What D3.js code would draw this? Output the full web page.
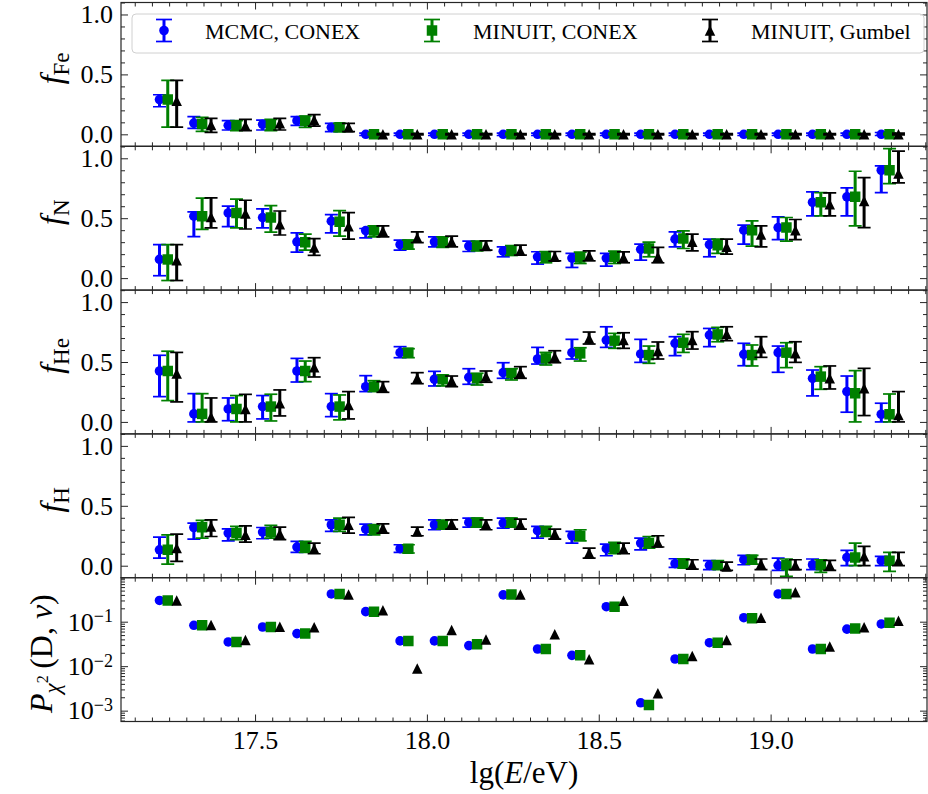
<!DOCTYPE html>
<html>
<head>
<meta charset="utf-8">
<script src="https://cdn.jsdelivr.net/npm/d3@7"></script>
<style>
  body { margin: 0; background: #fff; }
  svg text { font-family: "Liberation Serif", "Times New Roman", serif; fill: #000; }
</style>
</head>
<body>
<svg id="chart" width="928" height="794"></svg>
<script>
// bin centres in lg(E/eV)
const lgE = [17.25, 17.35, 17.45, 17.55, 17.65, 17.75, 17.85, 17.95, 18.05, 18.15, 18.25,
             18.35, 18.45, 18.55, 18.65, 18.75, 18.85, 18.95, 19.05, 19.15, 19.25, 19.35];

const methodNames = ['MCMC, CONEX', 'MINUIT, CONEX', 'MINUIT, Gumbel'];

// [value, low, high] for each bin
const feMcmc = [[0.29,0.23,0.33],[0.094,0.05,0.147],[0.075,0.036,0.114],[0.083,0.036,0.119],[0.114,0.075,0.147],[0.058,0.022,0.092],
  [0,-0.01,0.01],[0,-0.01,0.01],[0,-0.01,0.01],[0,-0.01,0.01],[0,-0.01,0.01],[0,-0.01,0.01],[0,-0.01,0.01],[0,-0.01,0.01],
  [0,-0.01,0.01],[0,-0.01,0.01],[0,-0.01,0.01],[0,-0.01,0.01],[0,-0.01,0.01],[0,-0.01,0.01],[0,-0.01,0.01],[0,-0.01,0.015]];
const feMinuit = [[0.29,0.06,0.45],[0.086,0.025,0.142],[0.075,0.03,0.114],[0.08,0.03,0.125],[0.114,0.058,0.153],[0.058,0.022,0.092],
  [0,-0.005,0.01],[0,-0.005,0.01],[0,-0.005,0.01],[0,-0.005,0.01],[0,-0.005,0.01],[0,-0.005,0.01],[0,-0.005,0.01],[0,-0.005,0.01],
  [0,-0.005,0.01],[0,-0.005,0.01],[0,-0.005,0.01],[0,-0.005,0.01],[0,-0.005,0.01],[0,-0.005,0.01],[0,-0.005,0.01],[0,-0.005,0.01]];
const feGumbel = [[0.28,0.06,0.45],[0.078,0.017,0.133],[0.072,0.03,0.125],[0.092,0.036,0.133],[0.119,0.069,0.164],[0.058,0.022,0.092],
  [0,-0.005,0.005],[0,-0.005,0.005],[0,-0.005,0.005],[0,-0.005,0.005],[0,-0.005,0.005],[0,-0.005,0.005],[0,-0.005,0.005],[0,-0.005,0.005],
  [0,-0.005,0.005],[0,-0.005,0.005],[0,-0.005,0.005],[0,-0.005,0.005],[0,-0.005,0.005],[0,-0.005,0.005],[0,-0.005,0.005],[0,-0.005,0.01]];

const nMcmc = [[0.156,0.02,0.28],[0.517,0.347,0.553],[0.544,0.43,0.60],[0.505,0.42,0.578],[0.303,0.217,0.378],[0.475,0.378,0.53],
  [0.397,0.336,0.414],[0.28,0.233,0.317],[0.303,0.261,0.344],[0.267,0.222,0.308],[0.225,0.178,0.26],[0.178,0.117,0.22],
  [0.167,0.089,0.206],[0.167,0.1,0.206],[0.24,0.15,0.283],[0.325,0.261,0.386],[0.28,0.178,0.325],[0.40,0.283,0.442],
  [0.422,0.322,0.511],[0.633,0.52,0.72],[0.678,0.52,0.753],[0.9,0.714,0.936]];
const nMinuit = [[0.156,-0.02,0.28],[0.517,0.406,0.667],[0.544,0.42,0.66],[0.505,0.383,0.605],[0.30,0.233,0.367],[0.47,0.35,0.564],
  [0.397,0.344,0.436],[0.28,0.242,0.317],[0.303,0.256,0.344],[0.267,0.228,0.308],[0.228,0.189,0.272],[0.178,0.128,0.222],
  [0.172,0.122,0.217],[0.178,0.122,0.225],[0.247,0.178,0.30],[0.33,0.247,0.394],[0.275,0.206,0.325],[0.40,0.267,0.478],
  [0.422,0.308,0.506],[0.633,0.519,0.714],[0.678,0.436,0.892],[0.9,0.789,1.08]];
const nGumbel = [[0.15,-0.02,0.28],[0.51,0.42,0.67],[0.54,0.41,0.65],[0.45,0.36,0.56],[0.256,0.19,0.33],[0.433,0.325,0.547],
  [0.394,0.344,0.436],[0.336,0.297,0.386],[0.303,0.261,0.35],[0.267,0.233,0.311],[0.228,0.192,0.275],[0.178,0.144,0.222],
  [0.186,0.144,0.228],[0.172,0.128,0.219],[0.178,0.128,0.256],[0.303,0.228,0.367],[0.261,0.2,0.325],[0.364,0.261,0.436],
  [0.40,0.322,0.489],[0.617,0.52,0.711],[0.644,0.422,0.839],[0.872,0.794,1.06]];

const heMcmc = [[0.425,0.211,0.556],[0.067,0.0,0.236],[0.108,0.01,0.2],[0.128,0.025,0.22],[0.425,0.333,0.53],[0.128,0.044,0.236],
  [0.294,0.253,0.386],[0.578,0.536,0.628],[0.356,0.30,0.422],[0.372,0.314,0.444],[0.411,0.364,0.494],[0.525,0.483,0.622],
  [0.578,0.525,0.689],[0.683,0.622,0.794],[0.567,0.497,0.689],[0.656,0.553,0.711],[0.725,0.628,0.78],[0.564,0.469,0.656],
  [0.578,0.414,0.633],[0.364,0.217,0.433],[0.253,0.081,0.383],[0.064,0.0,0.156]];
const heMinuit = [[0.425,0.178,0.59],[0.067,0.0,0.236],[0.108,0.0,0.22],[0.128,0.008,0.231],[0.425,0.336,0.508],[0.128,0.017,0.225],
  [0.294,0.253,0.344],[0.578,0.536,0.611],[0.356,0.30,0.392],[0.364,0.308,0.406],[0.406,0.35,0.444],[0.53,0.475,0.58],
  [0.572,0.508,0.619],[0.678,0.614,0.739],[0.558,0.489,0.633],[0.661,0.58,0.731],[0.73,0.669,0.789],[0.558,0.467,0.642],
  [0.578,0.453,0.661],[0.378,0.272,0.461],[0.239,0.0,0.428],[0.064,0.0,0.233]];
const heGumbel = [[0.405,0.167,0.58],[0.04,0.0,0.2],[0.108,0.0,0.23],[0.156,0.05,0.267],[0.456,0.375,0.536],[0.142,0.025,0.253],
  [0.289,0.247,0.336],[0.364,0.319,0.411],[0.344,0.294,0.383],[0.378,0.331,0.425],[0.411,0.364,0.461],[0.544,0.494,0.594],
  [0.697,0.65,0.75],[0.683,0.614,0.744],[0.592,0.525,0.667],[0.683,0.608,0.753],[0.733,0.678,0.794],[0.614,0.539,0.711],
  [0.572,0.497,0.669],[0.364,0.275,0.467],[0.281,0.053,0.447],[0.058,0.0,0.253]];

const hMcmc = [[0.133,0.064,0.239],[0.319,0.222,0.356],[0.272,0.208,0.308],[0.281,0.225,0.319],[0.156,0.111,0.203],[0.342,0.286,0.383],
  [0.306,0.258,0.347],[0.142,0.111,0.175],[0.342,0.30,0.383],[0.361,0.322,0.397],[0.356,0.314,0.397],[0.292,0.231,0.328],
  [0.25,0.189,0.286],[0.142,0.083,0.181],[0.189,0.133,0.231],[0.017,-0.014,0.058],[0.003,-0.033,0.042],[0.05,0.008,0.086],
  [0.003,-0.039,0.064],[0.008,-0.033,0.056],[0.069,0.0,0.128],[0.042,0.0,0.078]];
const hMinuit = [[0.133,0.014,0.258],[0.322,0.23,0.378],[0.272,0.217,0.328],[0.281,0.231,0.336],[0.156,0.111,0.203],[0.342,0.286,0.397],
  [0.306,0.258,0.336],[0.142,0.106,0.175],[0.342,0.306,0.378],[0.361,0.322,0.397],[0.361,0.322,0.397],[0.286,0.244,0.328],
  [0.25,0.208,0.3],[0.147,0.1,0.194],[0.189,0.147,0.244],[0.017,-0.019,0.058],[0.003,-0.028,0.042],[0.05,0.014,0.086],
  [0.003,-0.089,0.056],[0.003,-0.056,0.05],[0.069,0.0,0.189],[0.042,-0.047,0.111]];
const hGumbel = [[0.147,0.036,0.264],[0.328,0.244,0.383],[0.258,0.197,0.333],[0.267,0.217,0.322],[0.142,0.10,0.189],[0.342,0.272,0.403],
  [0.314,0.272,0.35],[0.286,0.25,0.322],[0.35,0.306,0.383],[0.347,0.3,0.383],[0.347,0.306,0.389],[0.267,0.222,0.306],
  [0.106,0.064,0.147],[0.142,0.1,0.189],[0.194,0.156,0.25],[0.008,-0.028,0.05],[-0.006,-0.039,0.03],[0.014,-0.033,0.056],
  [0.003,-0.033,0.05],[0.003,-0.039,0.044],[0.078,0.0,0.161],[0.042,0.0,0.111]];

// goodness of fit probabilities
const chiMcmc = [0.30,0.083,0.035,0.076,0.054,0.42,0.168,0.037,0.037,0.029,0.40,0.0243,0.0175,0.217,0.0015,0.0145,0.0337,0.123,0.42,0.0243,0.068,0.089];
const chiMinuit = [0.30,0.083,0.035,0.076,0.054,0.42,0.168,0.037,0.037,0.031,0.41,0.0243,0.0175,0.217,0.00134,0.0145,0.0337,0.12,0.42,0.0243,0.07,0.095];
const chiGumbel = [0.30,0.084,0.039,0.077,0.075,0.41,0.18,0.0089,0.065,0.040,0.41,0.052,0.0143,0.296,0.00245,0.017,0.039,0.123,0.46,0.0275,0.075,0.105];

const xMajor = [17.5, 18.0, 18.5, 19.0];
const yMajor = [0, 0.5, 1.0];
const logMajor = [1e-3, 1e-2, 1e-1];
const logExp = {0.001: '−3', 0.01: '−2', 0.1: '−1'};

// ---------------------------------------------------------------
const svg = d3.select('#chart');
const mLeft = 121, mRight = 927, mTop = 2.5, panelH = 143.8;
const serif = '"Liberation Serif", "Times New Roman", serif';
const colors = ['#0000ff', '#008000', '#000000'];
const dxs = [-0.028, -0.004, 0.022];

const xScale = d3.scaleLinear().domain([17.11, 19.455]).range([mLeft, mRight]);
const xMinor = d3.range(343, 390).map(d => d / 20).filter(d => !xMajor.includes(d));

const panels = [
  {label: 'Fe', series: [feMcmc, feMinuit, feGumbel]},
  {label: 'N', series: [nMcmc, nMinuit, nGumbel]},
  {label: 'He', series: [heMcmc, heMinuit, heGumbel]},
  {label: 'H', series: [hMcmc, hMinuit, hGumbel]},
  {label: 'chi', series: [chiMcmc, chiMinuit, chiGumbel], log: true}
];

const markerPath = (k, s) => {
  if (k === 0) return d3.symbol(d3.symbolCircle, Math.PI * 4.8 * 4.8)();
  if (k === 1) return `M${-s/2},${-s/2}H${s/2}V${s/2}H${-s/2}Z`;
  return `M0,${-s/2}L${s/2},${s/2}H${-s/2}Z`;
};

const styleAxis = (g, fs) => {
  g.select('.domain').remove();
  g.selectAll('line').attr('stroke', '#262626').attr('stroke-width', 1);
  g.attr('font-family', serif).attr('font-size', fs);
  g.selectAll('text').style('font-family', serif).attr('fill', '#000');
};

panels.forEach((p, i) => {
  const y0 = mTop + i * panelH, y1 = y0 + panelH;
  const yScale = p.log
    ? d3.scaleLog().domain([5.7e-4, 0.975]).range([y1, y0])
    : d3.scaleLinear().domain([-0.1, 1.1]).range([y1, y0]);

  const g = svg.append('g').attr('class', 'panel');

  g.append('clipPath').attr('id', 'clip' + i)
    .append('rect').attr('x', mLeft).attr('y', y0).attr('width', mRight - mLeft).attr('height', panelH);

  // ticks: all inward, on four sides
  const isLast = i === panels.length - 1;
  const bx = g.append('g').attr('transform', `translate(0,${y1})`)
    .call(d3.axisBottom(xScale).tickValues(xMajor).tickSize(-7).tickPadding(9)
      .tickFormat(isLast ? d3.format('.1f') : ''));
  styleAxis(bx, 26);
  styleAxis(g.append('g').attr('transform', `translate(0,${y1})`)
    .call(d3.axisBottom(xScale).tickValues(xMinor).tickSize(-4).tickFormat('')), 10);
  styleAxis(g.append('g').attr('transform', `translate(0,${y0})`)
    .call(d3.axisTop(xScale).tickValues(xMajor).tickSize(-7).tickFormat('')), 10);
  styleAxis(g.append('g').attr('transform', `translate(0,${y0})`)
    .call(d3.axisTop(xScale).tickValues(xMinor).tickSize(-4).tickFormat('')), 10);

  let minorY;
  if (p.log) {
    minorY = [];
    [1e-4, 1e-3, 1e-2, 1e-1].forEach(dec => d3.range(2, 10).forEach(m => {
      const v = dec * m;
      if (v > 5.7e-4 && v < 0.975) minorY.push(v);
    }));
  } else {
    minorY = d3.range(-1, 12).map(d => d / 10).filter(d => !yMajor.includes(d));
  }
  const majY = p.log ? logMajor : yMajor;

  const ly = g.append('g').attr('transform', `translate(${mLeft},0)`)
    .call(d3.axisLeft(yScale).tickValues(majY).tickSize(-7).tickPadding(8)
      .tickFormat(p.log ? (() => '') : d3.format('.1f')));
  styleAxis(ly, 26);
  if (p.log) {
    ly.selectAll('.tick text').each(function(d) {
      const t = d3.select(this);
      t.append('tspan').text('10');
      t.append('tspan').attr('dy', '-0.45em').attr('font-size', 18).text(logExp[d]);
    });
  }
  styleAxis(g.append('g').attr('transform', `translate(${mLeft},0)`)
    .call(d3.axisLeft(yScale).tickValues(minorY).tickSize(-4).tickFormat('')), 10);
  styleAxis(g.append('g').attr('transform', `translate(${mRight},0)`)
    .call(d3.axisRight(yScale).tickValues(majY).tickSize(-7).tickFormat('')), 10);
  styleAxis(g.append('g').attr('transform', `translate(${mRight},0)`)
    .call(d3.axisRight(yScale).tickValues(minorY).tickSize(-4).tickFormat('')), 10);

  // frame
  g.append('rect')
    .attr('x', mLeft).attr('y', y0).attr('width', mRight - mLeft).attr('height', panelH)
    .attr('fill', 'none').attr('stroke', '#262626').attr('stroke-width', 1.2);

  // data, one series after the other
  const dataG = g.append('g').attr('clip-path', `url(#clip${i})`);
  p.series.forEach((arr, k) => {
    const sg = dataG.append('g');
    const pts = arr.map((d, j) => p.log
      ? {x: lgE[j] + dxs[k], v: d}
      : {x: lgE[j] + dxs[k], v: d[0], lo: d[1], hi: d[2]});

    if (!p.log) {
      sg.selectAll('.ebar').data(pts).enter().append('line')
        .attr('class', 'ebar')
        .attr('x1', d => xScale(d.x)).attr('x2', d => xScale(d.x))
        .attr('y1', d => yScale(d.lo)).attr('y2', d => yScale(d.hi))
        .attr('stroke', colors[k]).attr('stroke-width', 3);
      ['lo', 'hi'].forEach(key => {
        sg.selectAll('.cap-' + key).data(pts).enter().append('line')
          .attr('class', 'cap-' + key)
          .attr('x1', d => xScale(d.x) - 6.5).attr('x2', d => xScale(d.x) + 6.5)
          .attr('y1', d => yScale(d[key])).attr('y2', d => yScale(d[key]))
          .attr('stroke', colors[k]).attr('stroke-width', 1.7);
      });
    }
    sg.selectAll('.mark').data(pts).enter().append('path')
      .attr('class', 'mark')
      .attr('transform', d => `translate(${xScale(d.x)},${yScale(d.v)})`)
      .attr('d', markerPath(k, 10.5))
      .attr('fill', colors[k]);
  });

  // y label
  const cy = (y0 + y1) / 2;
  if (p.log) {
    const t = svg.append('text')
      .attr('transform', `translate(52,${cy + 4}) rotate(-90)`)
      .attr('text-anchor', 'middle').attr('font-size', 32);
    t.append('tspan').attr('font-style', 'italic').text('P');
    t.append('tspan').attr('font-style', 'italic').attr('font-size', 23).attr('dy', 8).text('χ');
    t.append('tspan').attr('font-size', 16).attr('dy', -12).text('2');
    t.append('tspan').attr('dy', 4).text('\u2009(D, ');
    t.append('tspan').attr('font-style', 'italic').text('ν');
    t.append('tspan').text(')');
  } else {
    const t = svg.append('text')
      .attr('transform', `translate(62,${cy - 6}) rotate(-90)`)
      .attr('text-anchor', 'middle').attr('font-size', 32);
    t.append('tspan').attr('font-style', 'italic').text('f');
    t.append('tspan').attr('font-size', 23).attr('dy', 7).text(p.label);
  }
});

// x label
const xl = svg.append('text')
  .attr('x', (mLeft + mRight) / 2).attr('y', 783)
  .attr('text-anchor', 'middle').attr('font-size', 31);
xl.append('tspan').text('lg(');
xl.append('tspan').attr('font-style', 'italic').text('E');
xl.append('tspan').text('/eV)');

// legend
const legend = svg.append('g').attr('class', 'legend');
legend.append('rect')
  .attr('x', 132).attr('y', 14).attr('width', 792).attr('height', 39).attr('rx', 4)
  .attr('fill', '#fff').attr('fill-opacity', 0.8)
  .attr('stroke', '#d0d0d0').attr('stroke-width', 1);
const legX = [164, 432, 710];
methodNames.forEach((name, k) => {
  const lg = legend.append('g').attr('transform', `translate(${legX[k]},30.5)`);
  lg.append('line').attr('y1', -11).attr('y2', 11).attr('stroke', colors[k]).attr('stroke-width', 3);
  [-11, 11].forEach(yy => lg.append('line')
    .attr('x1', -8).attr('x2', 8).attr('y1', yy).attr('y2', yy)
    .attr('stroke', colors[k]).attr('stroke-width', 1.7));
  lg.append('path').attr('d', markerPath(k, 10.5)).attr('fill', colors[k]);
  legend.append('text')
    .attr('x', legX[k] + 41).attr('y', 38.5)
    .attr('font-size', 22)
    .text(name);
});
</script>
</body>
</html>
